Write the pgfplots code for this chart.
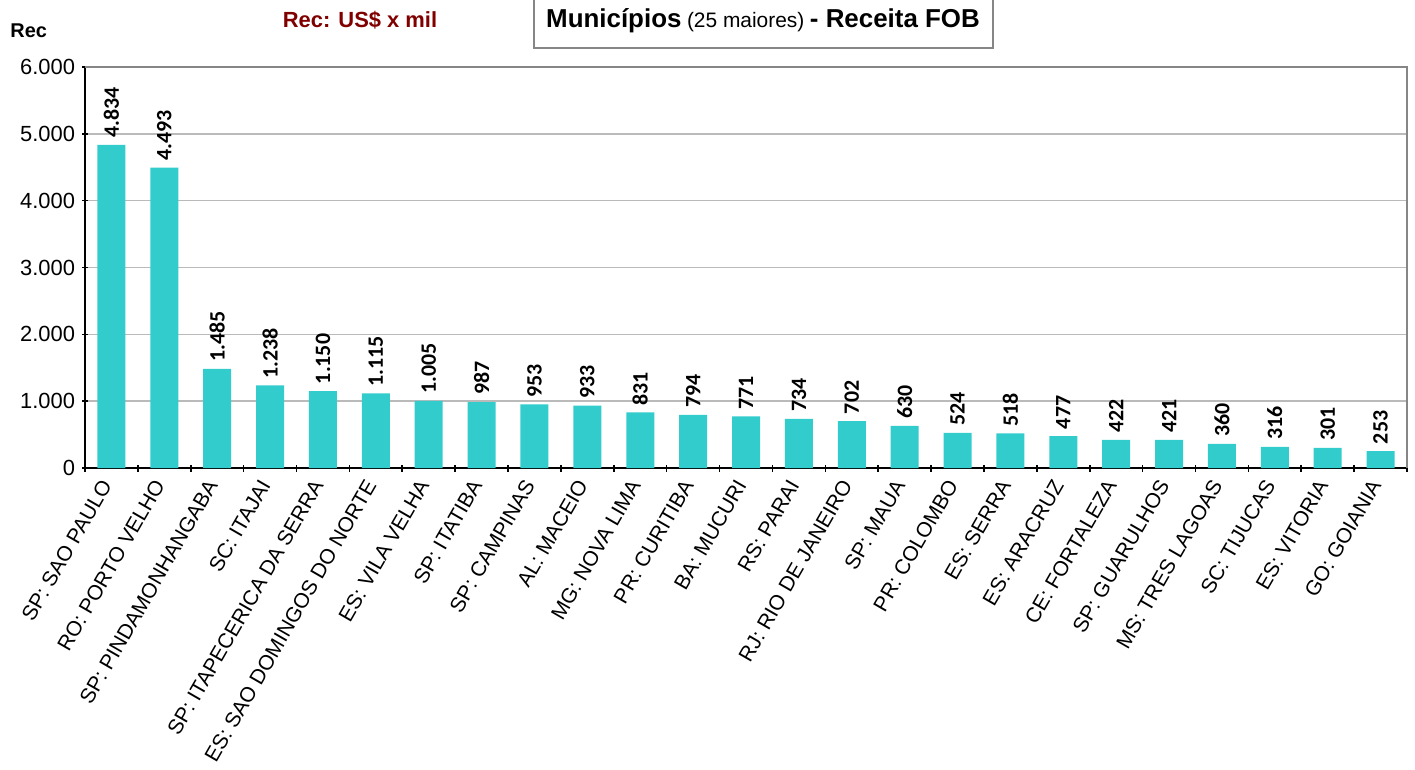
\documentclass[border=0pt]{standalone}
\usepackage{fontspec}
\setmainfont{Liberation Sans}
\newfontfamily\calib{Carlito}
\usepackage{pgfplots}
\pgfplotsset{compat=1.18}
\definecolor{barclr}{RGB}{51,204,204}
\definecolor{recred}{RGB}{128,0,0}
\definecolor{gridclr}{RGB}{186,186,186}
\definecolor{frameclr}{RGB}{134,134,134}
\begin{document}
\begin{tikzpicture}[x=1bp,y=1bp]
\path[use as bounding box] (0,0) rectangle (707.5,384.5);
\begin{axis}[
  at={(42.5bp,150.5bp)}, anchor=south west,
  scale only axis, width=661bp, height=200.5bp,
  /pgf/number format/assume math mode=true,
  ybar, bar width=14bp,
  xmin=-0.5, xmax=24.5, ymin=0, ymax=6000,
  ytick={0,1000,...,6000}, scaled y ticks=false,
  y tick label style={font=\fontsize{11}{13}\selectfont,
    /pgf/number format/fixed,/pgf/number format/1000 sep={.}},
  xtick={0,...,24},
  xticklabels={SP: SAO PAULO,RO: PORTO VELHO,SP: PINDAMONHANGABA,SC: ITAJAI,
    SP: ITAPECERICA DA SERRA,ES: SAO DOMINGOS DO NORTE,ES: VILA VELHA,SP: ITATIBA,
    SP: CAMPINAS,AL: MACEIO,MG: NOVA LIMA,PR: CURITIBA,BA: MUCURI,RS: PARAI,
    RJ: RIO DE JANEIRO,SP: MAUA,PR: COLOMBO,ES: SERRA,ES: ARACRUZ,CE: FORTALEZA,
    SP: GUARULHOS,MS: TRES LAGOAS,SC: TIJUCAS,ES: VITORIA,GO: GOIANIA},
  x tick label style={font=\fontsize{10.5}{12.5}\selectfont,xshift=-6bp,yshift=-2.5bp,
    rotate=60,anchor=north east,inner sep=0.5bp},
  minor xtick={-0.5,0.5,...,24.5},
  major x tick style={draw=none},
  tick align=outside, major tick length=3bp, minor tick length=3.5bp,
  tick style={black,line width=0.8bp},
  axis lines=left, axis line style={-,black,line width=0.9bp},
  ymajorgrids, major grid style={gridclr,line width=0.75bp},
  nodes near coords={\pgfmathprintnumber[fixed,precision=0,1000 sep={.}]{\pgfplotspointmeta}},
  every node near coord/.append style={rotate=90,anchor=west,
    font=\calib\bfseries\fontsize{11}{13}\selectfont,black},
  clip=false,
]
\addplot[fill=barclr,draw=none] coordinates {
  (0,4834) (1,4493) (2,1485) (3,1238) (4,1150) (5,1115) (6,1005) (7,987)
  (8,953) (9,933) (10,831) (11,794) (12,771) (13,734) (14,702) (15,630)
  (16,524) (17,518) (18,477) (19,422) (20,421) (21,360) (22,316) (23,301) (24,253)};
\draw[frameclr,line width=0.8bp] (rel axis cs:0,1) -- (rel axis cs:1,1) -- (rel axis cs:1,0);
\end{axis}
\node[anchor=base west,inner sep=0,font=\bfseries\fontsize{10}{12}\selectfont] at (5,366) {Rec};
\node[anchor=base,inner sep=0,text=recred,font=\bfseries\fontsize{11}{13}\selectfont] at (180,371) {Rec: US\$ x mil};
\draw[frameclr,line width=0.8bp] (267,360.5) rectangle (496.5,392);
\node[anchor=base,inner sep=0] at (381.5,371) {{\bfseries\fontsize{13}{15}\selectfont Municípios} {\fontsize{10.5}{12}\selectfont(25 maiores)} {\bfseries\fontsize{13}{15}\selectfont - Receita FOB}};
\end{tikzpicture}
\end{document}
